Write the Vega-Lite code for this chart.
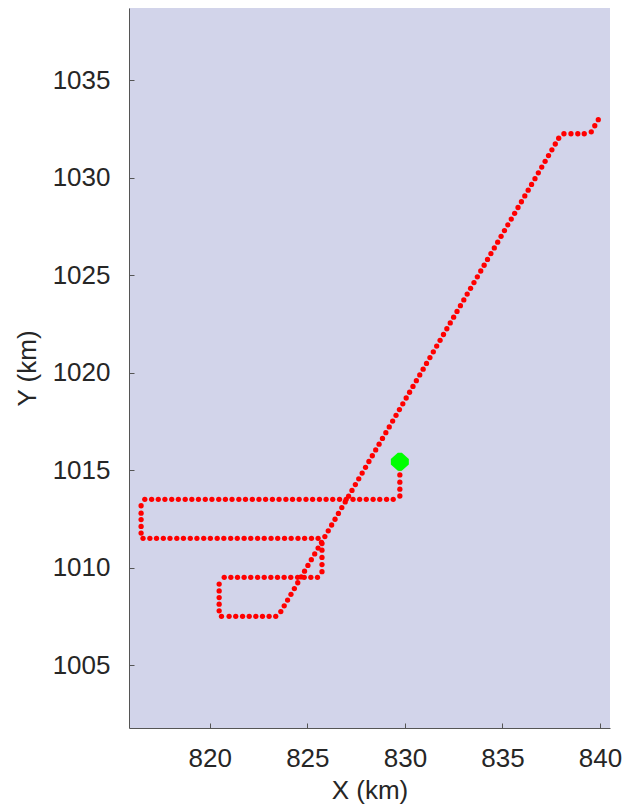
{
  "$schema": "https://vega.github.io/schema/vega-lite/v6.json",
  "autosize": "none",
  "width": 481,
  "height": 720,
  "padding": {"left": 129, "top": 8, "right": 13, "bottom": 81},
  "background": "white",
  "config": {
    "view": {"fill": "#d2d4ea", "stroke": null},
    "axis": {
      "labelFont": "Liberation Sans",
      "titleFont": "Liberation Sans",
      "labelFontSize": 26,
      "titleFontSize": 26,
      "labelFontWeight": "normal",
      "titleFontWeight": "normal",
      "labelColor": "#262626",
      "titleColor": "#262626",
      "domainColor": "#555555",
      "domainWidth": 1,
      "tickColor": "#555555",
      "tickSize": -5,
      "grid": false,
      "format": "d"
    }
  },
  "datasets": {
    "track": [
      {"x": 829.74, "y": 1015.43}, {"x": 829.74, "y": 1015.1}, {"x": 829.74, "y": 1014.75}, {"x": 829.74, "y": 1014.38}, {"x": 829.74, "y": 1014.02}, {"x": 829.74, "y": 1013.67},
      {"x": 829.40, "y": 1013.5}, {"x": 829.06, "y": 1013.5}, {"x": 828.71, "y": 1013.5}, {"x": 828.37, "y": 1013.5}, {"x": 828.02, "y": 1013.5}, {"x": 827.68, "y": 1013.5}, {"x": 827.34, "y": 1013.5}, {"x": 826.99, "y": 1013.5}, {"x": 826.65, "y": 1013.5}, {"x": 826.30, "y": 1013.5},
      {"x": 825.96, "y": 1013.5}, {"x": 825.62, "y": 1013.5}, {"x": 825.27, "y": 1013.5}, {"x": 824.93, "y": 1013.5}, {"x": 824.58, "y": 1013.5}, {"x": 824.24, "y": 1013.5}, {"x": 823.90, "y": 1013.5}, {"x": 823.55, "y": 1013.5}, {"x": 823.21, "y": 1013.5}, {"x": 822.86, "y": 1013.5},
      {"x": 822.52, "y": 1013.5}, {"x": 822.18, "y": 1013.5}, {"x": 821.83, "y": 1013.5}, {"x": 821.49, "y": 1013.5}, {"x": 821.14, "y": 1013.5}, {"x": 820.80, "y": 1013.5}, {"x": 820.46, "y": 1013.5}, {"x": 820.11, "y": 1013.5}, {"x": 819.77, "y": 1013.5}, {"x": 819.42, "y": 1013.5},
      {"x": 819.08, "y": 1013.5}, {"x": 818.74, "y": 1013.5}, {"x": 818.39, "y": 1013.5}, {"x": 818.05, "y": 1013.5}, {"x": 817.70, "y": 1013.5}, {"x": 817.36, "y": 1013.5}, {"x": 817.02, "y": 1013.5}, {"x": 816.67, "y": 1013.5},
      {"x": 816.48, "y": 1013.17}, {"x": 816.48, "y": 1012.79}, {"x": 816.48, "y": 1012.46}, {"x": 816.48, "y": 1012.11}, {"x": 816.48, "y": 1011.77},
      {"x": 816.58, "y": 1011.5}, {"x": 816.93, "y": 1011.5}, {"x": 817.27, "y": 1011.5}, {"x": 817.62, "y": 1011.5}, {"x": 817.96, "y": 1011.5}, {"x": 818.31, "y": 1011.5}, {"x": 818.65, "y": 1011.5}, {"x": 819.00, "y": 1011.5}, {"x": 819.34, "y": 1011.5},
      {"x": 819.69, "y": 1011.5}, {"x": 820.03, "y": 1011.5}, {"x": 820.38, "y": 1011.5}, {"x": 820.72, "y": 1011.5}, {"x": 821.07, "y": 1011.5}, {"x": 821.41, "y": 1011.5}, {"x": 821.76, "y": 1011.5}, {"x": 822.10, "y": 1011.5}, {"x": 822.45, "y": 1011.5},
      {"x": 822.79, "y": 1011.5}, {"x": 823.14, "y": 1011.5}, {"x": 823.48, "y": 1011.5}, {"x": 823.83, "y": 1011.5}, {"x": 824.17, "y": 1011.5}, {"x": 824.52, "y": 1011.5}, {"x": 824.86, "y": 1011.5}, {"x": 825.21, "y": 1011.5}, {"x": 825.55, "y": 1011.5},
      {"x": 825.75, "y": 1011.23}, {"x": 825.75, "y": 1010.89}, {"x": 825.75, "y": 1010.52}, {"x": 825.75, "y": 1010.15}, {"x": 825.75, "y": 1009.79},
      {"x": 825.52, "y": 1009.5}, {"x": 825.18, "y": 1009.5}, {"x": 824.84, "y": 1009.5}, {"x": 824.50, "y": 1009.5}, {"x": 824.15, "y": 1009.5}, {"x": 823.81, "y": 1009.5}, {"x": 823.47, "y": 1009.5}, {"x": 823.13, "y": 1009.5},
      {"x": 822.79, "y": 1009.5}, {"x": 822.45, "y": 1009.5}, {"x": 822.10, "y": 1009.5}, {"x": 821.76, "y": 1009.5}, {"x": 821.42, "y": 1009.5}, {"x": 821.08, "y": 1009.5}, {"x": 820.74, "y": 1009.5},
      {"x": 820.48, "y": 1009.15}, {"x": 820.48, "y": 1008.80}, {"x": 820.48, "y": 1008.46}, {"x": 820.48, "y": 1008.12}, {"x": 820.48, "y": 1007.78},
      {"x": 820.60, "y": 1007.5}, {"x": 820.99, "y": 1007.5}, {"x": 821.33, "y": 1007.5}, {"x": 821.68, "y": 1007.5}, {"x": 822.02, "y": 1007.5}, {"x": 822.36, "y": 1007.5}, {"x": 822.70, "y": 1007.5}, {"x": 823.04, "y": 1007.5}, {"x": 823.38, "y": 1007.5},
      {"x": 823.640, "y": 1007.740}, {"x": 823.814, "y": 1008.036}, {"x": 823.987, "y": 1008.332}, {"x": 824.161, "y": 1008.628}, {"x": 824.335, "y": 1008.924}, {"x": 824.508, "y": 1009.221}, {"x": 824.682, "y": 1009.517}, {"x": 824.856, "y": 1009.813},
      {"x": 825.029, "y": 1010.109}, {"x": 825.203, "y": 1010.405}, {"x": 825.377, "y": 1010.701}, {"x": 825.550, "y": 1010.997}, {"x": 825.724, "y": 1011.293}, {"x": 825.898, "y": 1011.589}, {"x": 826.071, "y": 1011.885}, {"x": 826.245, "y": 1012.182},
      {"x": 826.419, "y": 1012.478}, {"x": 826.592, "y": 1012.774}, {"x": 826.766, "y": 1013.070}, {"x": 826.940, "y": 1013.366}, {"x": 827.113, "y": 1013.662}, {"x": 827.287, "y": 1013.958}, {"x": 827.461, "y": 1014.254}, {"x": 827.634, "y": 1014.550},
      {"x": 827.808, "y": 1014.846}, {"x": 827.982, "y": 1015.143}, {"x": 828.155, "y": 1015.439}, {"x": 828.329, "y": 1015.735}, {"x": 828.502, "y": 1016.031}, {"x": 828.676, "y": 1016.327}, {"x": 828.850, "y": 1016.623}, {"x": 829.023, "y": 1016.919},
      {"x": 829.197, "y": 1017.215}, {"x": 829.371, "y": 1017.511}, {"x": 829.544, "y": 1017.807}, {"x": 829.718, "y": 1018.104}, {"x": 829.892, "y": 1018.400}, {"x": 830.065, "y": 1018.696}, {"x": 830.239, "y": 1018.992}, {"x": 830.413, "y": 1019.288},
      {"x": 830.586, "y": 1019.584}, {"x": 830.760, "y": 1019.880}, {"x": 830.934, "y": 1020.176}, {"x": 831.107, "y": 1020.472}, {"x": 831.281, "y": 1020.768}, {"x": 831.455, "y": 1021.065}, {"x": 831.628, "y": 1021.361}, {"x": 831.802, "y": 1021.657},
      {"x": 831.976, "y": 1021.953}, {"x": 832.149, "y": 1022.249}, {"x": 832.323, "y": 1022.545}, {"x": 832.497, "y": 1022.841}, {"x": 832.670, "y": 1023.137}, {"x": 832.844, "y": 1023.433}, {"x": 833.018, "y": 1023.729}, {"x": 833.191, "y": 1024.026},
      {"x": 833.365, "y": 1024.322}, {"x": 833.539, "y": 1024.618}, {"x": 833.712, "y": 1024.914}, {"x": 833.886, "y": 1025.210}, {"x": 834.060, "y": 1025.506}, {"x": 834.233, "y": 1025.802}, {"x": 834.407, "y": 1026.098}, {"x": 834.581, "y": 1026.394},
      {"x": 834.754, "y": 1026.690}, {"x": 834.928, "y": 1026.987}, {"x": 835.102, "y": 1027.283}, {"x": 835.275, "y": 1027.579}, {"x": 835.449, "y": 1027.875}, {"x": 835.623, "y": 1028.171}, {"x": 835.796, "y": 1028.467}, {"x": 835.970, "y": 1028.763},
      {"x": 836.144, "y": 1029.059}, {"x": 836.317, "y": 1029.355}, {"x": 836.491, "y": 1029.651}, {"x": 836.665, "y": 1029.948}, {"x": 836.838, "y": 1030.244}, {"x": 837.012, "y": 1030.540}, {"x": 837.185, "y": 1030.836}, {"x": 837.359, "y": 1031.132},
      {"x": 837.533, "y": 1031.428}, {"x": 837.706, "y": 1031.724}, {"x": 837.880, "y": 1032.020},
      {"x": 838.15, "y": 1032.25}, {"x": 838.51, "y": 1032.25}, {"x": 838.86, "y": 1032.25}, {"x": 839.19, "y": 1032.25}, {"x": 839.55, "y": 1032.35}, {"x": 839.73, "y": 1032.66}, {"x": 839.91, "y": 1032.97}
    ],
    "start": [{"x": 829.74, "y": 1015.43}]
  },
  "layer": [
    {
      "data": {"name": "track"},
      "mark": {"type": "point", "shape": "circle", "filled": true, "size": 28, "color": "#ff0000", "opacity": 1},
      "encoding": {
        "x": {
          "field": "x", "type": "quantitative",
          "scale": {"domain": [815.86, 840.51], "nice": false, "zero": false},
          "axis": {"title": "X (km)", "values": [820, 825, 830, 835, 840], "labelPadding": 22, "titlePadding": 6}
        },
        "y": {
          "field": "y", "type": "quantitative",
          "scale": {"domain": [1001.77, 1038.7], "nice": false, "zero": false},
          "axis": {"title": "Y (km)", "values": [1005, 1010, 1015, 1020, 1025, 1030, 1035], "labelPadding": 24, "titlePadding": 12}
        }
      }
    },
    {
      "data": {"name": "start"},
      "mark": {"type": "point", "shape": "M -0.22,-1 L 0.22,-1 L 1,-0.3 L 1,0.3 L 0.22,1 L -0.22,1 L -1,0.3 L -1,-0.3 Z", "filled": true, "size": 324, "color": "#00ff00", "opacity": 1},
      "encoding": {
        "x": {"field": "x", "type": "quantitative"},
        "y": {"field": "y", "type": "quantitative"}
      }
    }
  ]
}
